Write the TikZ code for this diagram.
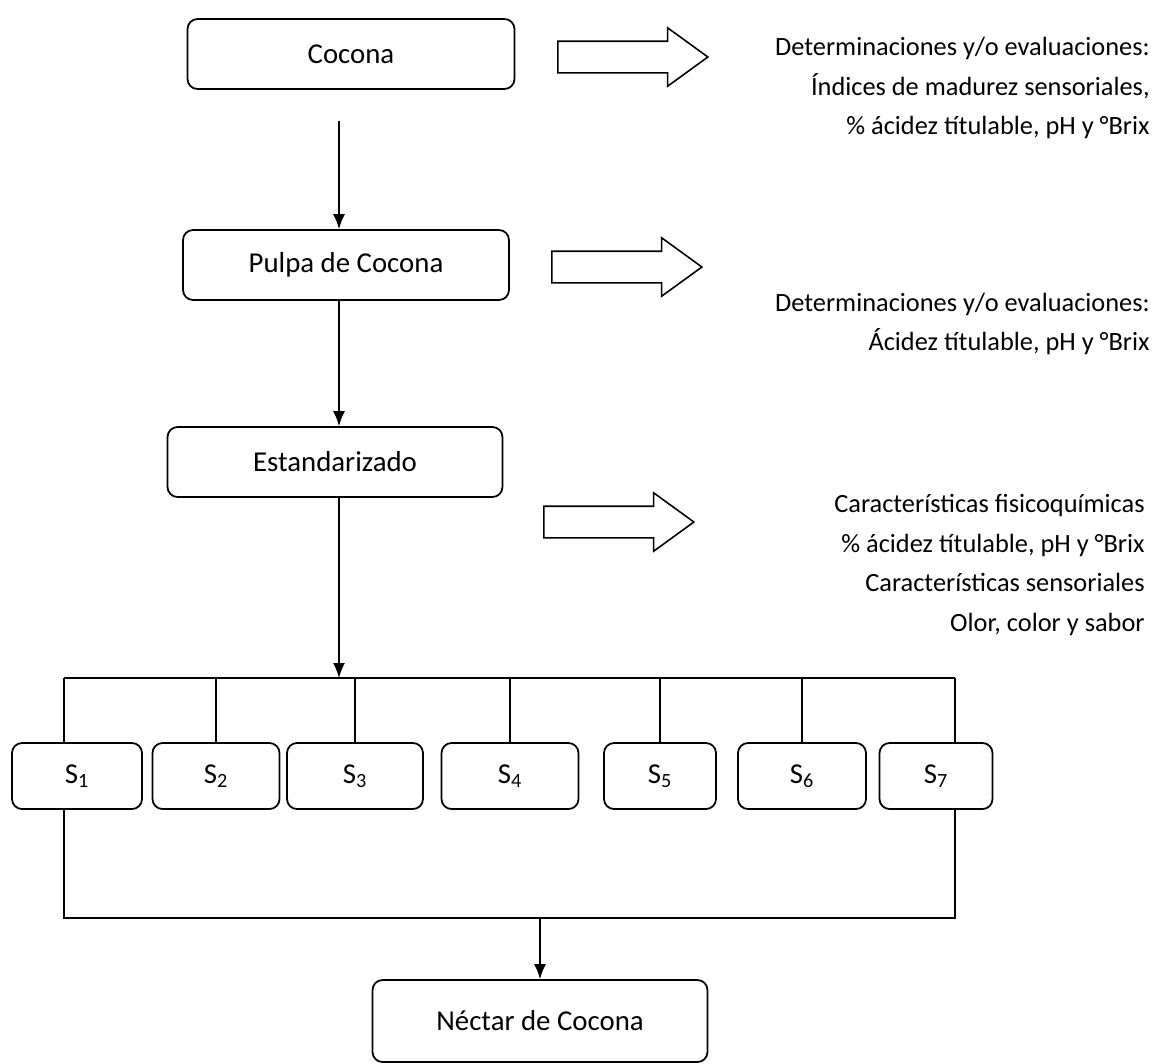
\documentclass[tikz,border=0pt]{standalone}
\usepackage{fontspec}
\setmainfont{Carlito}
\usetikzlibrary{arrows.meta,shapes.arrows}

\begin{document}
\begin{tikzpicture}[
	x=0.02cm, y=-0.02cm,
	font=\fontsize{16.4}{22.7}\selectfont,
	cell/.style={
		rectangle,
		rounded corners=2mm,
		draw,
		line width=1pt,
		align=center,
		minimum height=1.40cm,
	},
	subcell/.style={% sample boxes S1..S7
		cell,
		minimum height=1.32cm,
	},
	hollow/.style={
		single arrow,
		draw,
		line width=0.9pt,
		inner xsep=0pt,
		inner ysep=0.30cm,
		minimum height=3cm,
		single arrow head extend=0.27cm,
		single arrow tip angle=72,
	},
	note/.style={
		align=right,
		anchor=east,
		inner sep=0pt,
		font=\fontsize{15}{22.7}\selectfont,
	},
	ArrowC1/.style={% vertical flow arrows
		-{Latex[length=3mm,width=2.4mm]},
		line width=0.9pt,
	},
	line/.style={
		line width=0.9pt,
	},
]
	\useasboundingbox (0,0) rectangle (1159,1063);

	% main column
	\node [cell, minimum width=6.54cm] (cocona) at (351,54) {Cocona};
	\node [cell, minimum width=6.52cm] (pulpa) at (346,265) {Pulpa de Cocona};
	\node [cell, minimum width=6.70cm] (estand) at (335,462) {Estandarizado};

	% hollow arrows and notes
	\node [hollow] (arr1) at (622,57) {};
	\node [hollow] (arr2) at (616,267) {};
	\node [hollow] (arr3) at (608,522) {};

	\node [note] (det1) at (1150,88) {Determinaciones y/o evaluaciones:\\
		Índices de madurez sensoriales,\\
		\% ácidez títulable, pH y °Brix};
	\node [note] (det2) at (1150,324) {Determinaciones y/o evaluaciones:\\
		Ácidez títulable, pH y °Brix};
	\node [note] (det3) at (1145,565) {Características fisicoquímicas\\
		\% ácidez títulable, pH y °Brix\\
		Características sensoriales\\
		Olor, color y sabor};

	% samples
	\node [subcell, minimum width=2.60cm] (s1) at (77,776) {S\textsubscript{1}};
	\node [subcell, minimum width=2.54cm] (s2) at (216,776) {S\textsubscript{2}};
	\node [subcell, minimum width=2.72cm] (s3) at (355,776) {S\textsubscript{3}};
	\node [subcell, minimum width=2.74cm] (s4) at (510,776) {S\textsubscript{4}};
	\node [subcell, minimum width=2.24cm] (s5) at (660,776) {S\textsubscript{5}};
	\node [subcell, minimum width=2.56cm] (s6) at (802,776) {S\textsubscript{6}};
	\node [subcell, minimum width=2.26cm] (s7) at (936,776) {S\textsubscript{7}};

	\node [cell, minimum width=6.70cm, minimum height=1.64cm] (nectar) at (540,1021) {Néctar de Cocona};

	% helper coordinates
	\coordinate (spine) at (339,0);
	\coordinate (barL) at (64,678);
	\coordinate (barR) at (955,678);
	\coordinate (botL) at (64,918);
	\coordinate (botR) at (955,918);

	\draw [ArrowC1] ([yshift=-0.62cm]spine |- cocona.south) -- (spine |- pulpa.north);
	\draw [ArrowC1] (spine |- pulpa.south) -- (spine |- estand.north);
	\draw [ArrowC1] (spine |- estand.south) -- (spine |- barL);

	\draw [line] (barL) -- (barR);
	\draw [line] (barL) -- (barL |- s1.north);
	\draw [line] (barR) -- (barR |- s7.north);
	\foreach \s in {s2,s3,s4,s5,s6}
		\draw [line] (\s.north |- barL) -- (\s.north);

	\draw [line] (botL |- s1.south) -- (botL) -- (botR) -- (botR |- s7.south);
	\draw [ArrowC1] (nectar.north |- botL) -- (nectar.north);
\end{tikzpicture}
\end{document}
